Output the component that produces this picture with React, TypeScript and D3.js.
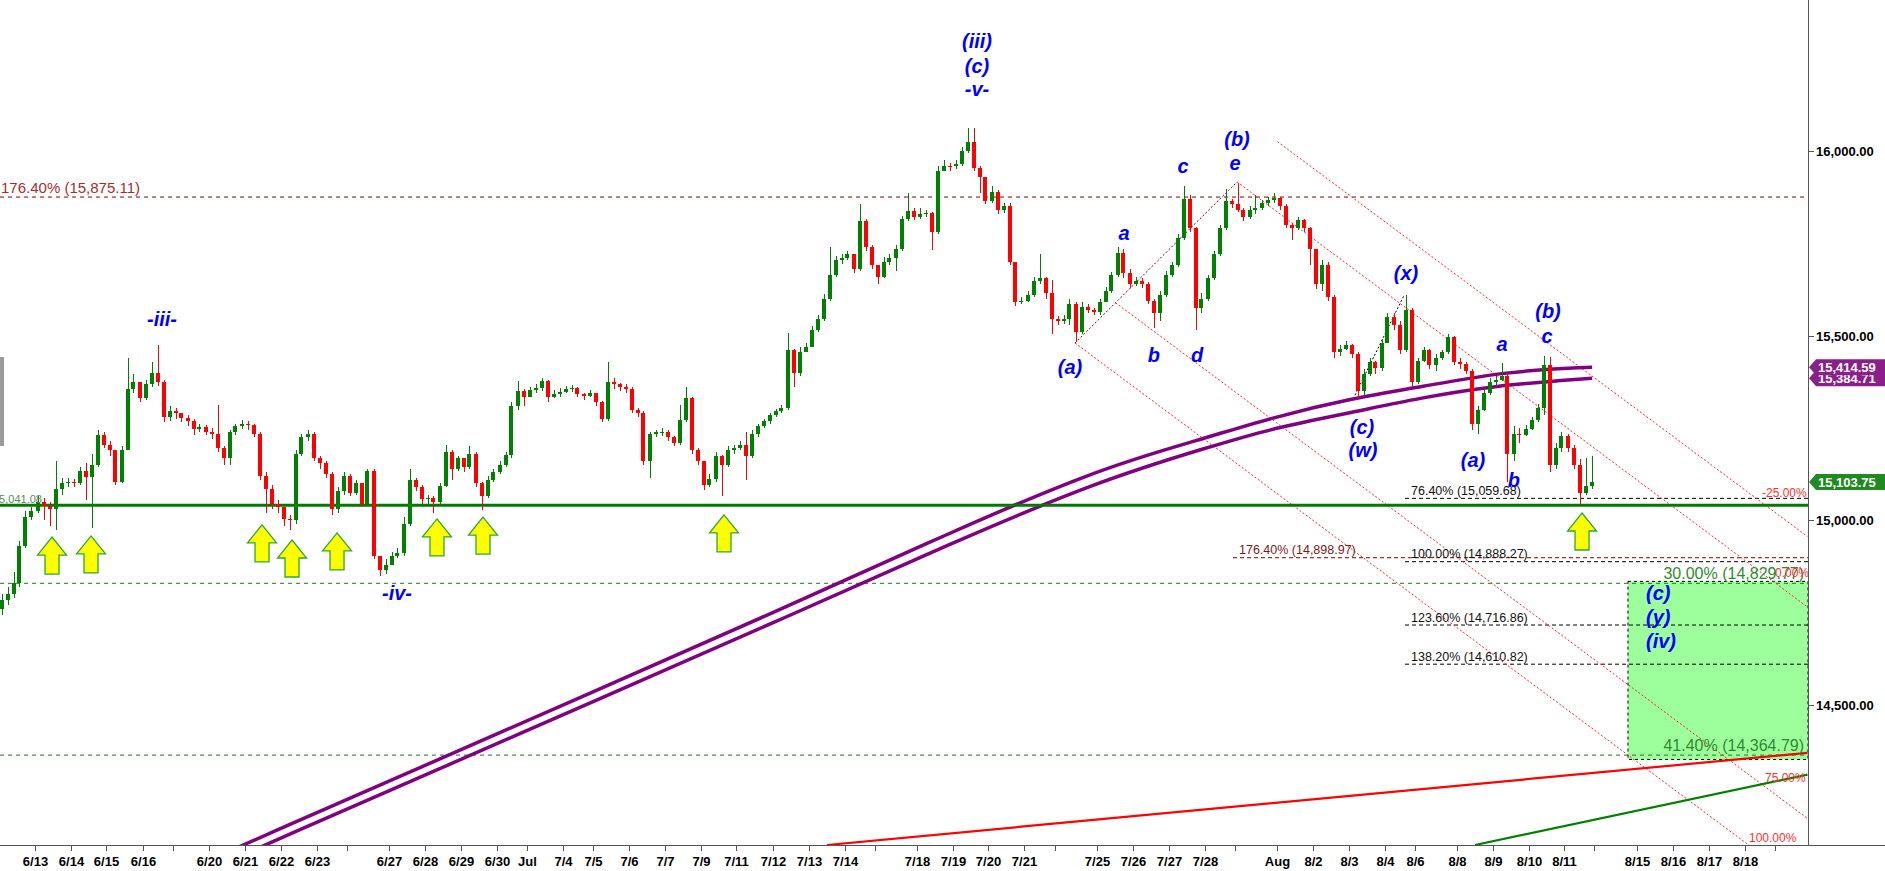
import React, { useEffect } from "react";
import * as d3 from "d3";

// ---------------- DATA ----------------
const firstOpen = 14760;
const closes = [
  14785, 14800, 14830, 14930, 15010, 15025, 15050, 15040, 15030, 15085, 15100, 15105,
  15100, 15135, 15118, 15150, 15230, 15205, 15190, 15105, 15190, 15355, 15375, 15330,
  15370, 15400, 15375, 15280, 15295, 15290, 15278, 15270, 15248, 15252, 15240,
  15235, 15195, 15170, 15238, 15255, 15262, 15258, 15235, 15120, 15085, 15045, 15035,
  15005, 15000, 15180, 15225, 15235, 15170, 15155, 15125, 15030, 15080, 15120,
  15075, 15100, 15045, 15135, 14905, 14865, 14880, 14905, 14912, 14990, 15110, 15090, 15058,
  15060, 15050, 15092, 15185, 15140, 15168, 15145, 15180, 15100, 15065, 15110, 15130,
  15150, 15178, 15310, 15350, 15335, 15352, 15358, 15378, 15335, 15342, 15348,
  15355, 15358, 15342, 15336, 15345, 15320, 15275, 15375, 15368, 15362, 15355,
  15300, 15290, 15160, 15235, 15238, 15240, 15225, 15210, 15272, 15330, 15190, 15160,
  15095, 15112, 15175, 15150, 15190, 15195, 15205, 15175, 15235, 15255, 15268, 15285,
  15295, 15305, 15460, 15400, 15455, 15470, 15515, 15545, 15600, 15665, 15705, 15710,
  15720, 15680, 15810, 15740, 15690, 15660, 15700, 15710, 15735, 15815, 15838, 15822,
  15830, 15832, 15780, 15945, 15960, 15958, 15965, 16000, 16025, 15955, 15930, 15865,
  15890, 15840, 15850, 15700, 15592, 15595, 15610, 15648, 15655, 15615, 15545,
  15540, 15545, 15585, 15510, 15578, 15570, 15565, 15590, 15622, 15665, 15725, 15670, 15640,
  15648, 15640, 15595, 15562, 15610, 15665, 15690, 15765, 15870, 15790, 15575, 15600,
  15655, 15720, 15790, 15865, 15855, 15840, 15822, 15840, 15845, 15860, 15866, 15872,
  15850, 15800, 15790, 15812, 15790, 15735, 15640, 15690, 15605, 15455, 15465, 15475,
  15450, 15350, 15395, 15428, 15412, 15480, 15550, 15530, 15460, 15570, 15375,
  15432, 15460, 15420, 15440, 15455, 15495, 15430, 15422, 15405, 15260, 15300, 15345, 15375,
  15380, 15392, 15180, 15235, 15232, 15248, 15272, 15305, 15420, 15150, 15195, 15228,
  15195, 15150, 15075, 15092, 15103.75,
];
const highs = [
  14800, 14820, 14860, 14945, 15025, 15035, 15065, 15060, 15050, 15160, 15115, 15115,
  15112, 15145, 15155, 15180, 15245, 15240, 15215, 15190, 15200, 15440, 15395, 15375,
  15380, 15430, 15475, 15380, 15310, 15305, 15292, 15285, 15275, 15262, 15258,
  15250, 15312, 15200, 15245, 15262, 15272, 15268, 15262, 15240, 15130, 15095, 15055,
  15035, 15015, 15190, 15235, 15245, 15238, 15175, 15160, 15130, 15090, 15130,
  15125, 15110, 15100, 15140, 15140, 14900, 14895, 14915, 14925, 15010, 15140, 15115, 15095,
  15070, 15065, 15100, 15205, 15190, 15175, 15165, 15200, 15185, 15105, 15120, 15140,
  15160, 15185, 15320, 15378, 15355, 15362, 15368, 15385, 15380, 15352, 15358,
  15365, 15366, 15362, 15345, 15352, 15345, 15322, 15430, 15385, 15372, 15368,
  15360, 15305, 15295, 15240, 15245, 15250, 15245, 15228, 15312, 15360, 15335, 15195,
  15140, 15125, 15185, 15178, 15200, 15205, 15215, 15240, 15245, 15262, 15275, 15292,
  15302, 15312, 15508, 15465, 15470, 15480, 15525, 15555, 15612, 15740, 15715, 15722,
  15728, 15722, 15855, 15815, 15745, 15690, 15712, 15720, 15745, 15825, 15885, 15845,
  15845, 15840, 15835, 15960, 15975, 15968, 15975, 16010, 16062, 16062, 15960, 15925,
  15905, 15895, 15860, 15860, 15700, 15605, 15620, 15660, 15720, 15660, 15650,
  15552, 15555, 15600, 15590, 15590, 15585, 15575, 15600, 15632, 15672, 15740, 15735, 15680,
  15660, 15655, 15645, 15600, 15620, 15675, 15700, 15775, 15905, 15880, 15795, 15615,
  15665, 15730, 15800, 15898, 15870, 15912, 15845, 15850, 15880, 15868, 15875, 15885,
  15875, 15855, 15805, 15822, 15815, 15795, 15735, 15705, 15700, 15610, 15475, 15485,
  15478, 15455, 15410, 15440, 15432, 15490, 15562, 15560, 15540, 15610, 15575,
  15440, 15470, 15465, 15450, 15462, 15505, 15498, 15440, 15428, 15410, 15310, 15352, 15385,
  15392, 15425, 15398, 15255, 15250, 15258, 15280, 15315, 15445, 15442, 15210, 15240,
  15235, 15205, 15165, 15168, 15175,
];
const lows = [
  14745, 14770, 14790, 14820, 14925, 15000, 15020, 15000, 14985, 14975, 15070, 15090,
  15090, 15095, 15055, 14980, 15145, 15195, 15175, 15095, 15100, 15190, 15345, 15320,
  15325, 15360, 15365, 15265, 15270, 15275, 15265, 15255, 15230, 15238, 15230,
  15220, 15185, 15150, 15150, 15230, 15248, 15245, 15225, 15110, 15020, 15030, 15020,
  14985, 14975, 14990, 15175, 15215, 15160, 15140, 15115, 15015, 15020, 15070,
  15065, 15070, 15035, 15040, 14895, 14850, 14855, 14880, 14898, 14905, 14985, 15080, 15045,
  15045, 15020, 15045, 15090, 15110, 15135, 15130, 15140, 15090, 15028, 15060, 15105,
  15125, 15145, 15170, 15300, 15310, 15338, 15345, 15350, 15320, 15330, 15335,
  15345, 15348, 15335, 15325, 15335, 15310, 15265, 15268, 15355, 15350, 15345,
  15290, 15280, 15150, 15115, 15225, 15228, 15215, 15200, 15205, 15265, 15180, 15150,
  15082, 15090, 15105, 15065, 15145, 15180, 15190, 15110, 15170, 15225, 15250, 15262,
  15280, 15290, 15300, 15360, 15390, 15455, 15470, 15510, 15540, 15595, 15660, 15695,
  15705, 15670, 15675, 15730, 15680, 15640, 15655, 15690, 15675, 15730, 15810, 15812,
  15815, 15820, 15732, 15775, 15945, 15945, 15950, 15960, 15995, 15945, 15885, 15855,
  15860, 15830, 15832, 15690, 15580, 15585, 15590, 15605, 15640, 15600, 15505,
  15530, 15532, 15530, 15483, 15505, 15560, 15555, 15555, 15590, 15615, 15660, 15655, 15630,
  15635, 15630, 15585, 15520, 15540, 15605, 15660, 15685, 15760, 15780, 15515, 15560,
  15595, 15650, 15715, 15785, 15845, 15835, 15810, 15815, 15830, 15840, 15850, 15860,
  15840, 15790, 15760, 15785, 15780, 15690, 15625, 15620, 15595, 15440, 15445, 15460,
  15440, 15330, 15340, 15390, 15395, 15405, 15500, 15515, 15450, 15455, 15360,
  15370, 15430, 15410, 15405, 15435, 15450, 15420, 15410, 15395, 15245, 15235, 15295, 15340,
  15365, 15378, 15105, 15160, 15210, 15228, 15245, 15265, 15285, 15130, 15140, 15185,
  15185, 15140, 15045, 15070, 15085,
];

// session start bar for each x-axis tick ("" = unlabeled tick)
const tickBars = [6, 12, 18, 24, 29, 35, 41, 47, 53, 58, 65, 71, 77, 83, 88, 94, 99, 105, 111, 117, 123, 129, 135, 141, 146, 153, 159, 165, 171, 176, 183, 189, 195, 201, 206, 213, 219, 225, 231, 236, 243, 249, 255, 261, 266, 273, 279, 285, 291, 296];
const tickLabels = ["6/13", "6/14", "6/15", "6/16", "", "6/20", "6/21", "6/22", "6/23", "", "6/27", "6/28", "6/29", "6/30", "Jul", "7/4", "7/5", "7/6", "7/7", "7/9", "7/11", "7/12", "7/13", "7/14", "", "7/18", "7/19", "7/20", "7/21", "", "7/25", "7/26", "7/27", "7/28", "", "Aug", "8/2", "8/3", "8/4", "8/6", "8/8", "8/9", "8/10", "8/11", "", "8/15", "8/16", "8/17", "8/18", ""];

const yTicks = [14500, 15000, 15500, 16000];

// moving averages [bar, price]
const maUpper: [number, number][] = [[33.6, 14070], [41.1, 14124], [80.4, 14403], [134.1, 14785], [156.9, 14955], [183.6, 15142], [200.25, 15218], [211.9, 15277], [225.75, 15331], [236.9, 15361], [251.4, 15404], [265.6, 15414.59]];
const maLower: [number, number][] = [[37.25, 14070], [44.75, 14124], [84.1, 14403], [137.9, 14785], [156.9, 14925], [183.6, 15109], [201.9, 15199], [212.4, 15250], [225.75, 15293], [236.9, 15331], [248.6, 15364], [265.6, 15384.71]];

// trend lines [bar, price]
const redTrend: [number, number][] = [[138.08, 14121.5], [301.5, 14371]];
const greenTrend: [number, number][] = [[246.08, 14121.5], [301.5, 14312]];

// support
const supportLevel = 15041.08;

// fib levels
const fibUpperLabel = "176.40% (15,875.11)";
const fibUpperValue = 15875.11;
const fibBlackLabels = ["76.40% (15,059.68)", "100.00% (14,888.27)", "123.60% (14,716.86)", "138.20% (14,610.82)"];
const fibBlackValues = [15059.68, 14888.27, 14716.86, 14610.82];
const fibRedLabel = "176.40% (14,898.97)";
const fibRedValue = 14898.97;
const greenLevelLabels = ["30.00% (14,829.77)", "41.40% (14,364.79)"];
const greenLevelValues = [14829.77, 14364.79];
const targetBox = { top: 14835, bottom: 14353, startBar: 271.58 };

// fib channel: anchor (a) low and e high
const chanA: [number, number] = [179.42, 15480];
const chanE: [number, number] = [206.42, 15916];
const chanSlope = -12.1; // price per bar
const chanLevels = [-0.25, 0, 0.75, 1];
const chanLabels = ["-25.00%", "0.00%", "75.00%", "100.00%"];
const chanLabelPos: [number, number][] = [[293.92, 15063], [296.08, 14847], [294.42, 14292], [291.75, 14130]];

const waveLine: [number, number][] = [[226.08, 15339], [234.25, 15609]];

// wave labels [text, bar, price]
const waveLabels: [string, number, number][] = [
  ["-iii-", 27.25, 15544], ["(iii)", 163.08, 16297], ["(c)", 163.08, 16230], ["-v-", 163.08, 16167],
  ["(a)", 178.58, 15416], ["a", 187.58, 15778], ["b", 192.58, 15448], ["c", 197.42, 15959], ["d", 199.75, 15448],
  ["(b)", 206.42, 16032], ["e", 206.08, 15967], ["(x)", 234.58, 15670], ["(c)", 227.25, 15253], ["(w)", 227.42, 15191],
  ["a", 250.58, 15477], ["(b)", 258.25, 15566], ["c", 258.08, 15499], ["(a)", 245.75, 15164], ["b", 252.58, 15109],
  ["-iv-", 66.42, 14803],
];
const boxLabels = ["(c)", "(y)", "(iv)"];
const boxLabelValues = [14803, 14738, 14673];
const boxLabelBar = 274.58;

// yellow arrows: tip [bar, price]
const arrowTips: [number, number][] = [[8.92, 14955], [15.42, 14958], [43.92, 14988], [48.92, 14947], [56.42, 14966], [73.08, 15004], [80.75, 15009], [120.92, 15015], [263.92, 15020]];

// price tags
const tagValues = [15384.71, 15414.59, 15103.75];
const tagColors = ["#8a1f8a", "#8a1f8a", "#1f8a1f"];

const FONT = "'Liberation Sans', Arial, Helvetica, sans-serif";

export default function App() {
  useEffect(() => {
    document.body.style.margin = "0";
  }, []);
  const W = 1885, H = 871, R = 1808, B = 845;
  const x = d3.scaleLinear().domain([0, 301.5]).range([-1.5, 1807.5]);
  const y = d3.scaleLinear().domain([14121.5, 16408.4]).range([B, 0]);

  const candles = closes.map((c, i) => ({ i, o: i === 0 ? firstOpen : closes[i - 1], c, h: highs[i], l: lows[i] }));

  const lineGen = d3.line<[number, number]>().x((d) => x(d[0])).y((d) => y(d[1]));
  const maGen = d3.line<[number, number]>().x((d) => x(d[0])).y((d) => y(d[1])).curve(d3.curveBasis);

  const chanLine = (L: number) => {
    const t = 1 - L;
    const si = chanA[0] + t * (chanE[0] - chanA[0]);
    const sv = chanA[1] + t * (chanE[1] - chanA[1]);
    const ei = 301.5;
    const ev = sv + chanSlope * (ei - si);
    return lineGen([[si, sv], [ei, ev]]) || "";
  };

  const arrowPath = (tx: number, ty: number) =>
    `M${tx},${ty} L${tx + 14.5},${ty + 18} L${tx + 7},${ty + 18} L${tx + 7},${ty + 37} L${tx - 7},${ty + 37} L${tx - 7},${ty + 18} L${tx - 14.5},${ty + 18} Z`;

  return (
    <svg width={W} height={H} style={{ position: "absolute", left: 0, top: 0, background: "#fff", fontFamily: FONT }}>
      <defs>
        <clipPath id="plot">
          <rect x={0} y={0} width={R} height={B} />
        </clipPath>
      </defs>
      <rect x={0} y={0} width={W} height={H} fill="#fff" />
      <g clipPath="url(#plot)">
        {/* target box */}
        <rect x={x(targetBox.startBar)} y={y(targetBox.top)} width={R - x(targetBox.startBar)} height={y(targetBox.bottom) - y(targetBox.top)} fill="#9cff9c" stroke="#000" strokeDasharray="3,3" strokeWidth={1} />

        {/* horizontal levels */}
        <line x1={0} x2={R} y1={y(fibUpperValue)} y2={y(fibUpperValue)} stroke="#800000" strokeDasharray="4,4" strokeWidth={1} />
        {greenLevelValues.map((v, k) => (
          <line key={"gl" + k} x1={0} x2={R} y1={y(v)} y2={y(v)} stroke="#1a7a1a" strokeDasharray="4,4" strokeWidth={1} />
        ))}
        <line x1={x(205.75)} x2={R} y1={y(fibRedValue)} y2={y(fibRedValue)} stroke="#800000" strokeDasharray="4,3" strokeWidth={1} />
        {fibBlackValues.map((v, k) => (
          <line key={"fb" + k} x1={x(234.42)} x2={R} y1={y(v)} y2={y(v)} stroke="#000" strokeDasharray="4,3" strokeWidth={1} />
        ))}

        {/* fib channel */}
        {chanLevels.map((L, k) => (
          <path key={"ch" + k} d={chanLine(L)} stroke="#ff2020" strokeDasharray="2,2" strokeWidth={1} fill="none" />
        ))}
        <path d={lineGen([chanA, chanE]) || ""} stroke="#800000" strokeDasharray="2,2" strokeWidth={1} fill="none" />
        <path d={lineGen(waveLine) || ""} stroke="#000" strokeDasharray="2,2" strokeWidth={1} fill="none" />

        {/* trend lines */}
        <path d={lineGen(redTrend) || ""} stroke="#ff0000" strokeWidth={2.2} fill="none" />
        <path d={lineGen(greenTrend) || ""} stroke="#008000" strokeWidth={2.2} fill="none" />

        {/* moving averages */}
        <path d={maGen(maUpper) || ""} stroke="#800080" strokeWidth={3.5} fill="none" />
        <path d={maGen(maLower) || ""} stroke="#800080" strokeWidth={3.5} fill="none" />

        {/* support line */}
        <line x1={0} x2={R} y1={y(supportLevel)} y2={y(supportLevel)} stroke="#007a00" strokeWidth={3} />

        {/* candles */}
        <g shapeRendering="crispEdges">
          {candles.map((d) => {
            const cx = Math.round(x(d.i + 0.5));
            const col = d.c >= d.o ? "#008000" : "#ff0000";
            const yt = y(Math.max(d.o, d.c));
            const yb = y(Math.min(d.o, d.c));
            return (
              <g key={"c" + d.i}>
                <line x1={cx} x2={cx} y1={y(Math.max(d.h, d.o, d.c))} y2={y(Math.min(d.l, d.o, d.c))} stroke={col} strokeWidth={1} />
                <rect x={cx - 2} y={yt} width={4} height={Math.max(1, yb - yt)} fill={col} />
              </g>
            );
          })}
        </g>

        {/* arrows */}
        {arrowTips.map((a, k) => (
          <path key={"ar" + k} d={arrowPath(x(a[0]), y(a[1]))} fill="#ffff00" stroke="#2ea82e" strokeWidth={1.3} />
        ))}

        {/* texts inside plot */}
        <text x={1} y={y(fibUpperValue) - 4} fontSize={15} fill="#a03030">{fibUpperLabel}</text>
        <text x={-7} y={y(supportLevel) - 2} fontSize={11} fill="#5d8a55">15,041.08</text>
        <text x={x(206.75)} y={y(fibRedValue) - 3.5} fontSize={12.5} fill="#7a1a1a">{fibRedLabel}</text>
        {fibBlackLabels.map((t, k) => (
          <text key={"fbt" + k} x={x(235.42)} y={y(fibBlackValues[k]) - 3.5} fontSize={12.5} fill="#111">{t}</text>
        ))}
        {greenLevelLabels.map((t, k) => (
          <text key={"glt" + k} x={1804} y={y(greenLevelValues[k]) - 4} fontSize={16} fill="#2e8b2e" textAnchor="end">{t}</text>
        ))}
        {chanLabels.map((t, k) => (
          <text key={"cht" + k} x={x(chanLabelPos[k][0])} y={y(chanLabelPos[k][1])} fontSize={12} fill="#ff3030">{t}</text>
        ))}
        {waveLabels.map((w, k) => (
          <text key={"wl" + k} x={x(w[1])} y={y(w[2])} fontSize={20} fontWeight="bold" fontStyle="italic" fill="#0000ff" textAnchor="middle" dominantBaseline="central">{w[0]}</text>
        ))}
        {boxLabels.map((t, k) => (
          <text key={"bl" + k} x={x(boxLabelBar)} y={y(boxLabelValues[k])} fontSize={20} fontWeight="bold" fontStyle="italic" fill="#0000ff" dominantBaseline="central">{t}</text>
        ))}
        <rect x={0} y={357} width={4} height={89} fill="#9a9a9a" />
      </g>

      {/* axes */}
      <line x1={0} x2={W} y1={B + 0.5} y2={B + 0.5} stroke="#555" strokeWidth={1} />
      <line x1={R + 0.5} x2={R + 0.5} y1={0} y2={B} stroke="#555" strokeWidth={1} />
      {tickBars.map((b, k) => {
        const tx = Math.round(x(b)) + 0.5;
        return (
          <g key={"xt" + k}>
            <line x1={tx} x2={tx} y1={B} y2={B + 6} stroke="#555" />
            {tickLabels[k] && (
              <text x={tx} y={866} fontSize={13} fontWeight="bold" textAnchor="middle" fill="#000">{tickLabels[k]}</text>
            )}
          </g>
        );
      })}
      {yTicks.map((v) => (
        <g key={"yt" + v}>
          <line x1={R} x2={R + 6} y1={Math.round(y(v)) + 0.5} y2={Math.round(y(v)) + 0.5} stroke="#555" />
          <text x={R + 8} y={y(v) + 5} fontSize={13} fontWeight="bold" fill="#000">{d3.format(",.2f")(v)}</text>
        </g>
      ))}

      {/* price tags */}
      {tagValues.map((v, k) => {
        const cy = y(v);
        return (
          <g key={"tag" + k}>
            <path d={`M${R + 1},${cy} L${R + 8},${cy - 8} L${W},${cy - 8} L${W},${cy + 8} L${R + 8},${cy + 8} Z`} fill={tagColors[k]} />
            <text x={R + 10} y={cy + 5} fontSize={13} fontWeight="bold" fill="#fff">{d3.format(",.2f")(v)}</text>
          </g>
        );
      })}
    </svg>
  );
}
